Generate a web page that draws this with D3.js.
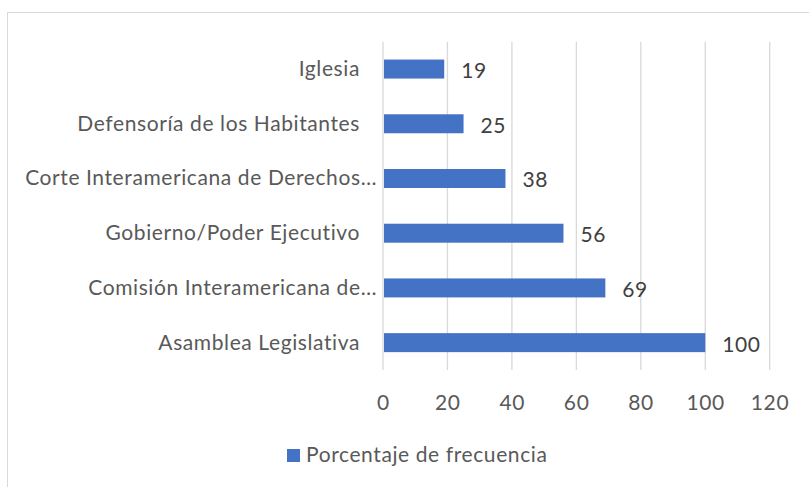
<!DOCTYPE html>
<html><head><meta charset="utf-8">
<script src="https://cdn.jsdelivr.net/npm/d3@7"></script>
<style>
body{margin:0;background:#fff;}
text{font-family:Lato,"Open Sans",sans-serif;fill:#595959;letter-spacing:0.6px;}
</style></head>
<body>
<svg id="chart" width="809" height="487"></svg>
<script>
const categories = ["Iglesia","Defensoría de los Habitantes","Corte Interamericana de Derechos…","Gobierno/Poder Ejecutivo","Comisión Interamericana de…","Asamblea Legislativa"];
const truncated = [false,false,true,false,true,false];
const values = [19,25,38,56,69,100];
const xTicks = [0,20,40,60,80,100,120];
const seriesName = "Porcentaje de frecuencia";

const svg = d3.select("#chart");
const fs = 21;
const m = {left:383, right:769.7, top:41.7, bottom:370};

svg.append("rect").attr("x",7.5).attr("y",12.5).attr("width",830).attr("height",500)
  .attr("fill","#fff").attr("stroke","#d9d9d9").attr("stroke-width",1);

const x = d3.scaleLinear().domain([0,120]).range([m.left,m.right]);
const y = d3.scaleBand().domain(categories).range([m.top,m.bottom]).paddingInner(0.653).paddingOuter(0.3265);

// gridlines
svg.append("g").selectAll("line").data(xTicks).join("line")
  .attr("x1",d=>x(d)).attr("x2",d=>x(d)).attr("y1",m.top).attr("y2",m.bottom)
  .attr("stroke","#d9d9d9").attr("stroke-width",1.3);

// x tick labels
svg.append("g").selectAll("text").data(xTicks).join("text")
  .attr("x",d=>x(d)+0.3).attr("y",410).attr("text-anchor","middle")
  .attr("font-size",fs).text(d=>d);

// bars
svg.append("g").selectAll("rect").data(values).join("rect")
  .attr("x",x(0)+1).attr("y",(d,i)=>y(categories[i]))
  .attr("width",d=>x(d)-x(0)-1).attr("height",y.bandwidth()).attr("fill","#4472C4");

// value labels
svg.append("g").selectAll("text").data(values).join("text")
  .attr("x",d=>x(d)+17).attr("y",(d,i)=>y(categories[i])+y.bandwidth()/2+9)
  .attr("font-size",fs).style("fill","#404040").text(d=>d);

// category labels
svg.append("g").selectAll("text").data(categories).join("text")
  .attr("x",(d,i)=>truncated[i]?377:360).attr("y",d=>y(d)+y.bandwidth()/2+7)
  .attr("text-anchor","end").attr("font-size",fs).text(d=>d);

// legend
const lg = svg.append("g");
lg.append("rect").attr("x",287).attr("y",449).attr("width",13).attr("height",13).attr("fill","#4472C4");
lg.append("text").attr("x",306).attr("y",462).attr("font-size",fs).text(seriesName);
</script>
</body></html>
